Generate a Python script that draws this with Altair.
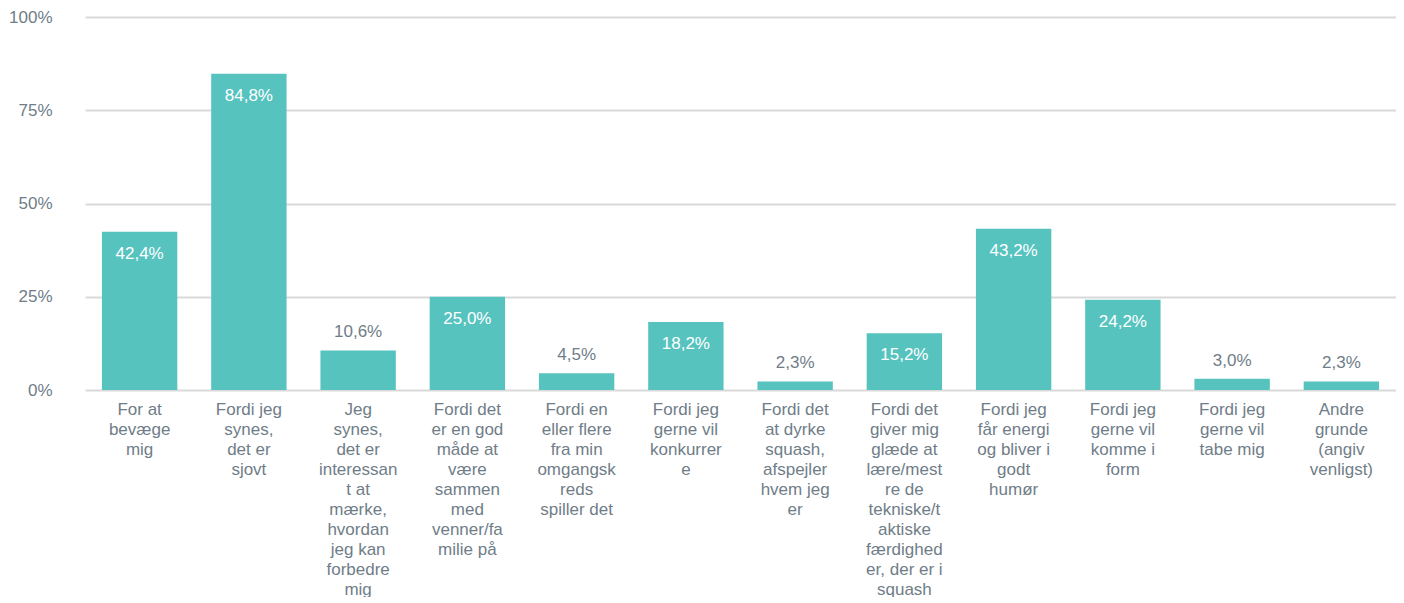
import altair as alt
import pandas as pd

categories = [
    "For at|bevæge|mig",
    "Fordi jeg|synes,|det er|sjovt",
    "Jeg|synes,|det er|interessan|t at|mærke,|hvordan|jeg kan|forbedre|mig",
    "Fordi det|er en god|måde at|være|sammen|med|venner/fa|milie på",
    "Fordi en|eller flere|fra min|omgangsk|reds|spiller det",
    "Fordi jeg|gerne vil|konkurrer|e",
    "Fordi det|at dyrke|squash,|afspejler|hvem jeg|er",
    "Fordi det|giver mig|glæde at|lære/mest|re de|tekniske/t|aktiske|færdighed|er, der er i|squash",
    "Fordi jeg|får energi|og bliver i|godt|humør",
    "Fordi jeg|gerne vil|komme i|form",
    "Fordi jeg|gerne vil|tabe mig",
    "Andre|grunde|(angiv|venligst)",
]
values = [42.4, 84.8, 10.6, 25.0, 4.5, 18.2, 2.3, 15.2, 43.2, 24.2, 3.0, 2.3]
y_ticks = [0, 25, 50, 75, 100]

df = pd.DataFrame({"cat": categories, "val": values})

BAR = "#57C3BF"
TXT = "#6F7D88"
FONT = "Liberation Sans"
FS = 17

x_enc = alt.X(
    "cat:N",
    sort=categories,
    scale=alt.Scale(paddingInner=0.31, paddingOuter=0.155),
    axis=alt.Axis(
        title=None,
        labelAngle=0,
        labelExpr="split(datum.value, '|')",
        labelLineHeight=20,
        labelFontSize=FS,
        labelColor=TXT,
        labelFont=FONT,
        labelPadding=11,
        labelBaseline="top",
        domain=False,
        ticks=False,
        labelLimit=0,
    ),
)
y_enc = alt.Y(
    "val:Q",
    scale=alt.Scale(domain=[0, 100], nice=False),
    axis=alt.Axis(
        title=None,
        values=y_ticks,
        labelExpr="datum.value + '%'",
        labelFontSize=FS,
        labelColor=TXT,
        labelFont=FONT,
        labelPadding=33,
        domain=False,
        ticks=False,
        gridColor="#D9D9D9",
        gridWidth=2,
    ),
)

base = alt.Chart(df).transform_calculate(
    lab="replace(format(datum.val, '.1f'), '.', ',') + '%'"
)

bars = base.mark_bar(color=BAR).encode(x=x_enc, y=y_enc)

inside = base.transform_filter("datum.val >= 15").mark_text(
    baseline="middle", dy=22, fontSize=FS, font=FONT, color="white"
).encode(x=alt.X("cat:N", sort=categories), y="val:Q", text="lab:N")

outside = base.transform_filter("datum.val < 15").mark_text(
    baseline="middle", dy=-18, fontSize=FS, font=FONT, color=TXT
).encode(x=alt.X("cat:N", sort=categories), y="val:Q", text="lab:N")

chart = (
    alt.layer(bars, inside, outside)
    .properties(width=1311, height=373, padding=0)
    .configure_view(stroke=None)
)

chart.save("out.html", embed_options={"renderer": "svg", "actions": False})
